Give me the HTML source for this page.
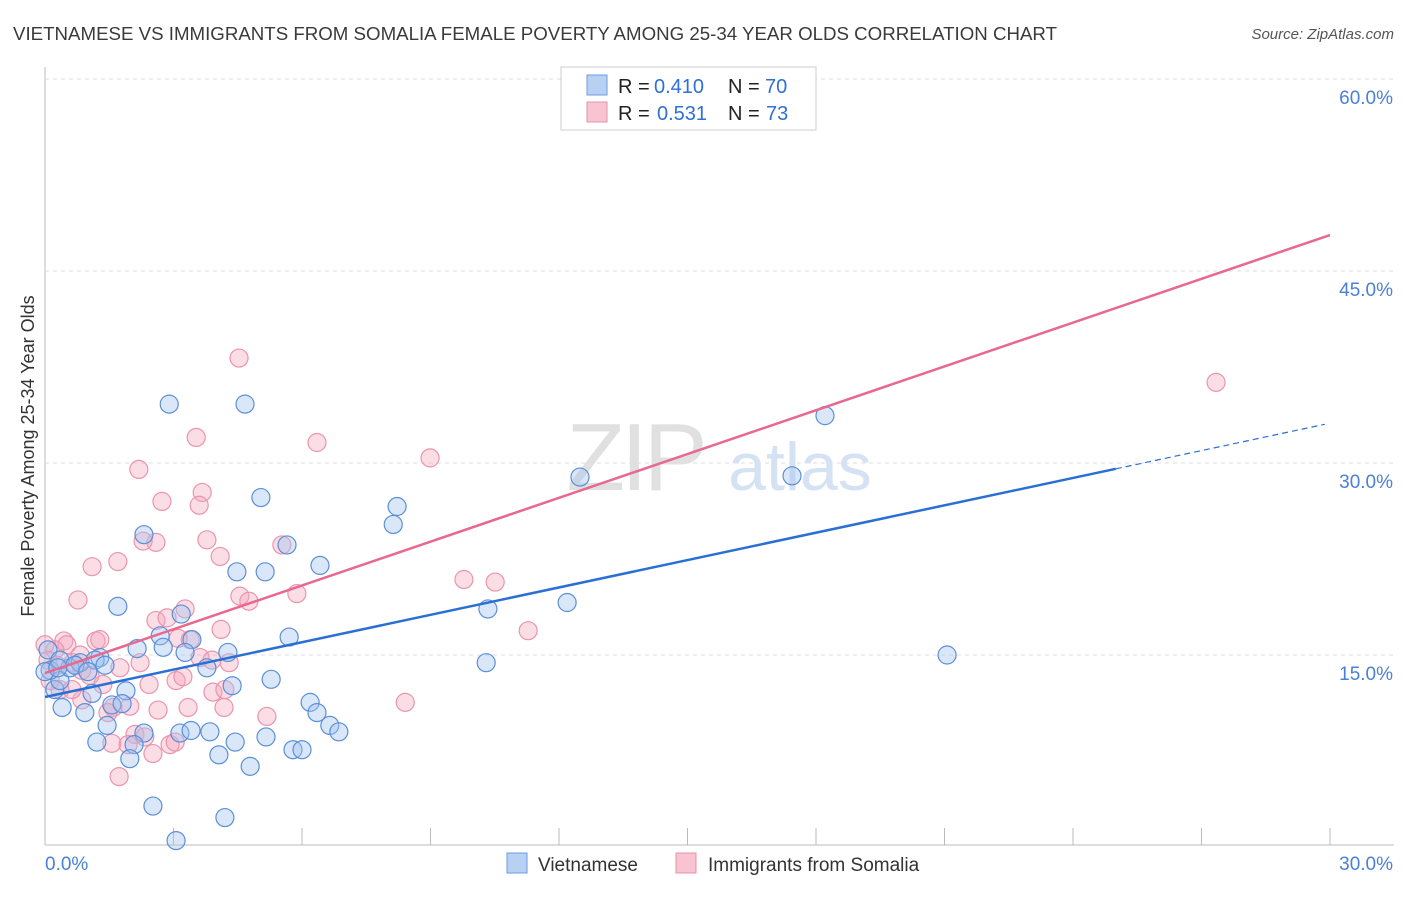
<!DOCTYPE html>
<html><head><meta charset="utf-8"><style>
body{margin:0;background:#fff;font-family:"Liberation Sans",sans-serif}
svg text{font-family:"Liberation Sans",sans-serif}
</style></head><body>
<svg id="chart" width="1406" height="892" xmlns="http://www.w3.org/2000/svg">
<text x="13" y="40" font-size="18.5" fill="#3a3a3a" textLength="1044" lengthAdjust="spacingAndGlyphs">VIETNAMESE VS IMMIGRANTS FROM SOMALIA FEMALE POVERTY AMONG 25-34 YEAR OLDS CORRELATION CHART</text>
<text x="1394" y="39" font-size="15" fill="#555" font-style="italic" text-anchor="end">Source: ZipAtlas.com</text>
<g id="grid"></g>
<g><text x="635" y="490" font-size="96" fill="#e0e0e0" font-family="Liberation Serif" text-anchor="middle" letter-spacing="-4">ZIP</text><text x="800" y="490" font-size="68" fill="#d4e2f4" text-anchor="middle">atlas</text></g>
<g id="pts"></g>
<g id="lines"></g>
<text transform="translate(34,456) rotate(-90)" font-size="18" fill="#333" text-anchor="middle">Female Poverty Among 25-34 Year Olds</text>
<g>
<rect x="561" y="67" width="255" height="63" fill="#fff" stroke="#ccc"/>
<rect x="587" y="75" width="20" height="20" fill="#b8d0f2" stroke="#6a9be0"/>
<text x="618" y="93" font-size="20" fill="#222">R =</text>
<text x="654" y="93" font-size="20" fill="#2f6fd6">0.410</text>
<text x="728" y="93" font-size="20" fill="#222">N =</text>
<text x="765" y="93" font-size="20" fill="#2f6fd6">70</text>
<rect x="587" y="102" width="20" height="20" fill="#f8c4d2" stroke="#e890aa"/>
<text x="618" y="120" font-size="20" fill="#222">R =</text>
<text x="657" y="120" font-size="20" fill="#2f6fd6">0.531</text>
<text x="728" y="120" font-size="20" fill="#222">N =</text>
<text x="766" y="120" font-size="20" fill="#2f6fd6">73</text>
</g>
<g>
<rect x="507" y="853" width="20" height="20" fill="#b8d0f2" stroke="#6a9be0"/>
<text x="538" y="871" font-size="19" fill="#333">Vietnamese</text>
<rect x="676" y="853" width="20" height="20" fill="#f8c4d2" stroke="#e890aa"/>
<text x="708" y="871" font-size="19" fill="#333">Immigrants from Somalia</text>
</g>
</svg>
<script>
const yTicks=[15,30,45,60];
const yTickLabels=["15.0%","30.0%","45.0%","60.0%"];
const xTickVals=[0,3,6,9,12,15,18,21,24,27,30];
const blueX=[2.90,4.67,5.04,5.65,6.42,4.48,5.14,2.31,1.70,3.18,2.69,3.43,2.15,2.76,3.27,3.78,4.27,5.70,5.28,4.37,6.19,6.35,6.65,6.86,3.85,3.15,3.41,2.31,2.08,1.21,1.98,4.06,4.44,4.79,5.16,5.79,6.00,2.52,4.20,3.06,0.40,0.93,1.10,1.89,1.56,1.80,1.45,0.23,0.35,0.12,0.58,0.82,1.28,0.07,1.17,0.35,0.00,8.22,8.13,10.34,10.30,12.19,12.49,17.44,18.21,21.06,0.30,0.70,1.40,1.00];
const blueY=[34.6,34.6,27.3,23.6,22.0,21.5,21.5,24.4,18.8,18.2,16.5,16.2,15.5,15.6,15.2,14.0,15.2,16.4,13.1,12.6,11.3,10.5,9.5,9.0,9.0,8.9,9.1,8.9,8.0,8.2,6.9,7.2,8.2,6.3,8.6,7.6,7.6,3.2,2.3,0.5,10.9,10.5,12.0,12.2,11.1,11.2,9.5,12.3,13.0,13.8,14.0,14.4,14.8,15.4,14.6,14.6,13.7,26.6,25.2,18.6,14.4,19.1,28.9,29.0,33.7,15.0,14.0,14.2,14.2,13.7];
const pinkX=[4.53,3.53,6.35,8.99,2.19,2.73,3.67,3.60,3.78,2.59,2.29,1.70,1.10,4.09,5.53,0.77,4.55,4.76,5.88,9.78,10.51,2.59,2.85,3.27,4.11,11.28,8.41,5.18,27.34,14.03,1.19,1.28,0.44,0.51,0.23,0.00,0.07,0.65,0.86,1.05,1.35,1.75,2.22,2.43,3.06,3.22,3.62,3.90,3.92,4.20,4.30,3.39,3.11,2.64,3.34,4.18,1.59,1.98,1.47,0.86,0.35,0.63,2.10,2.33,1.56,1.94,2.52,2.92,3.04,1.73,0.28,0.12,0.82];
const pinkY=[38.2,32.0,31.6,30.4,29.5,27.0,27.7,26.7,24.0,23.8,23.9,22.3,21.9,22.7,23.6,19.3,19.6,19.2,19.8,20.9,20.7,17.7,17.9,18.6,17.0,16.9,11.3,10.2,36.3,58.0,16.1,16.2,16.1,15.8,15.4,15.8,14.6,14.4,13.8,13.4,12.7,14.0,14.4,12.7,13.0,13.3,14.8,14.6,12.1,12.3,14.4,16.2,16.3,10.7,10.9,10.9,10.9,11.0,10.5,11.5,12.3,12.3,8.8,8.6,8.1,8.0,7.3,8.0,8.2,5.5,14.2,13.0,15.0];
const blueLine=[11.72,0.713];
const pinkLine=[13.59,1.1407];
const blueSolidEnd=25.0, blueDashEnd=29.88;

const NS="http://www.w3.org/2000/svg";
const X=v=>45+v/30*1285;
const Y=v=>847-v/60*768;
function mk(tag,attrs,parent){const e=document.createElementNS(NS,tag);for(const k in attrs)e.setAttribute(k,attrs[k]);parent.appendChild(e);return e;}
const grid=document.getElementById('grid');
const axL=mk('line',{x1:45,y1:67,x2:45,y2:845,stroke:'#bbb'},grid);


const axB=mk('line',{x1:45,y1:845,x2:1394,y2:845,stroke:'#bbb'},grid);


yTicks.forEach((t,i)=>{
 const g=mk('line',{x1:45,y1:Y(t),x2:1394,y2:Y(t),stroke:'#ddd','stroke-dasharray':'4,4'},grid);
 
 
 const tx=mk('text',{x:1393,y:Y(t)+25,'font-size':19,fill:'#4a80d8','text-anchor':'end'},grid);
 tx.textContent=yTickLabels[i];
 
 
});
xTickVals.forEach(t=>{
 const l=mk('line',{x1:X(t),y1:828,x2:X(t),y2:845,stroke:'#bbb'},grid);
 
 
});
const xl0=mk('text',{x:45,y:870,'font-size':19,fill:'#4a80d8'},grid);xl0.textContent='0.0%';


const xl1=mk('text',{x:1393,y:870,'font-size':19,fill:'#4a80d8','text-anchor':'end'},grid);xl1.textContent='30.0%';


const pts=document.getElementById('pts');
pinkX.forEach((x,i)=>{
 const c=mk('circle',{cx:X(x),cy:Y(pinkY[i]),r:9,fill:'rgba(245,165,188,0.38)',stroke:'#eb94ae','stroke-width':1.2},pts);
 
 
});
blueX.forEach((x,i)=>{
 const c=mk('circle',{cx:X(x),cy:Y(blueY[i]),r:9,fill:'rgba(160,196,240,0.4)',stroke:'#5b8fd9','stroke-width':1.2},pts);
 
 
});
const lines=document.getElementById('lines');
const pl=mk('line',{x1:X(0),y1:Y(pinkLine[0]),x2:X(30),y2:Y(pinkLine[0]+pinkLine[1]*30),stroke:'#e8688f','stroke-width':2.5},lines);


const bl=mk('line',{x1:X(0),y1:Y(blueLine[0]),x2:X(blueSolidEnd),y2:Y(blueLine[0]+blueLine[1]*blueSolidEnd),stroke:'#2a6fd4','stroke-width':2.5},lines);


const bd=mk('line',{x1:X(blueSolidEnd),y1:Y(blueLine[0]+blueLine[1]*blueSolidEnd),x2:X(blueDashEnd),y2:Y(blueLine[0]+blueLine[1]*blueDashEnd),stroke:'#2a6fd4','stroke-width':1.2,'stroke-dasharray':'6,4'},lines);


</script>
</body></html>
